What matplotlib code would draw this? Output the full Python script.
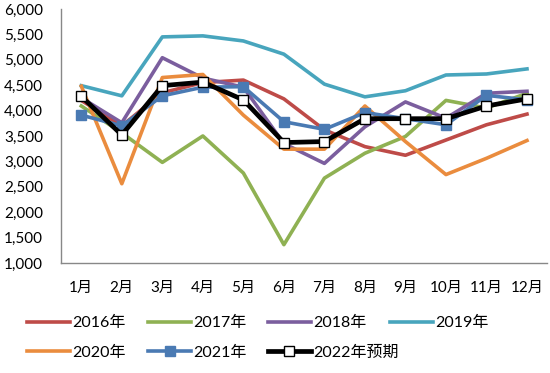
import matplotlib
matplotlib.use("Agg")
import matplotlib.pyplot as plt
from matplotlib.ticker import FuncFormatter

plt.rcParams['font.family'] = ['Lato', 'Noto Sans CJK SC', 'DejaVu Sans']

months = ['1月', '2月', '3月', '4月', '5月', '6月', '7月', '8月', '9月', '10月', '11月', '12月']
y2016 = [4200, 3700, 4350, 4550, 4600, 4230, 3620, 3290, 3120, 3420, 3720, 3930]
y2017 = [4090, 3560, 2980, 3500, 2770, 1360, 2670, 3160, 3490, 4200, 4050, 4340]
y2018 = [4250, 3760, 5040, 4640, 4460, 3350, 2960, 3680, 4170, 3850, 4340, 4380]
y2019 = [4490, 4290, 5450, 5470, 5370, 5110, 4520, 4270, 4390, 4700, 4720, 4820]
y2020 = [4480, 2560, 4650, 4710, 3910, 3240, 3240, 4090, 3390, 2740, 3060, 3410]
y2021 = [3910, 3700, 4290, 4460, 4470, 3780, 3630, 3960, 3840, 3720, 4300, 4210]
y2022 = [4280, 3520, 4490, 4560, 4210, 3370, 3390, 3840, 3840, 3840, 4090, 4230]
labels = ['2016年', '2017年', '2018年', '2019年', '2020年', '2021年', '2022年预期']

fig = plt.figure(figsize=(5.5, 3.73), dpi=100)
ax = fig.add_axes([0.111, 0.295, 0.884, 0.681])
x = list(range(len(months)))

lw = 2.6
h = []
h += ax.plot(x, y2016, color='#BE4B48', lw=lw, label=labels[0])
h += ax.plot(x, y2017, color='#8FB153', lw=lw, label=labels[1])
h += ax.plot(x, y2018, color='#7B5E9E', lw=lw, label=labels[2])
h += ax.plot(x, y2019, color='#48A5BD', lw=lw, label=labels[3])
h += ax.plot(x, y2020, color='#EA8C3E', lw=lw, label=labels[4])
h += ax.plot(x, y2021, color='#4A7AB3', lw=lw, marker='s', ms=6.5, label=labels[5])
h += ax.plot(x, y2022, color='black', lw=3.4, marker='s', ms=6.5, mfc='white', mec='black', mew=1.0, label=labels[6])

ax.set_xlim(-0.5, 11.5)
ax.set_ylim(1000, 6000)
ax.set_yticks(range(1000, 6001, 500))
ax.yaxis.set_major_formatter(FuncFormatter(lambda v, p: f'{int(v):,}'))
ax.set_xticks(x)
ax.set_xticklabels(months)
for s in ['top', 'right']:
    ax.spines[s].set_visible(False)
for s in ['left', 'bottom']:
    ax.spines[s].set_color('#888888')
    ax.spines[s].set_linewidth(1.0)
ax.tick_params(axis='both', length=0, labelsize=11, colors='black')
ax.tick_params(axis='x', pad=13)
ax.tick_params(axis='y', pad=13)

# legend laid out on a fixed grid (row-major, equal column widths)
col_x = [0.049, 0.269, 0.487, 0.709]
row_y = [0.134, 0.054]
for i in range(len(h)):
    r, c = divmod(i, 4)
    leg = fig.legend([h[i]], [labels[i]], loc='center left',
                     bbox_to_anchor=(col_x[c], row_y[r]), frameon=False,
                     fontsize=11.5, handlelength=2.7, handletextpad=0.15,
                     borderpad=0, borderaxespad=0)

fig.savefig('out.png', dpi=100)
